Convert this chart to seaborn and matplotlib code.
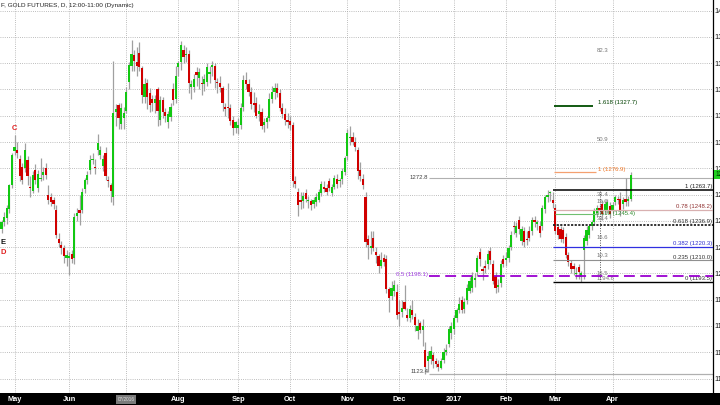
import numpy as np
import pandas as pd
import matplotlib
matplotlib.use("Agg")
import matplotlib.pyplot as plt
import matplotlib.transforms as mtransforms
from matplotlib.patches import Rectangle
import seaborn as sns

# ---------------- data (daily OHLC, late Apr 2016 -> 11 Apr 2017) ----------------
opens = [
    1234, 1239, 1242, 1249, 1267, 1293, 1294, 1287, 1281, 1280,
    1286, 1266, 1263, 1279, 1265, 1272, 1275, 1280, 1260, 1258,
    1256, 1248, 1226, 1222, 1219, 1212, 1212, 1215, 1212, 1244,
    1248, 1248, 1264, 1271, 1279, 1286, 1281, 1294, 1290, 1282,
    1292, 1271, 1267, 1258, 1323, 1328, 1314, 1318, 1324, 1346,
    1358, 1366, 1361, 1368, 1356, 1334, 1345, 1337, 1333, 1330,
    1340, 1317, 1332, 1323, 1315, 1319, 1340, 1333, 1357, 1361,
    1370, 1366, 1367, 1342, 1342, 1353, 1349, 1345, 1344, 1346,
    1352, 1357, 1358, 1346, 1345, 1341, 1327, 1327, 1326, 1317,
    1311, 1311, 1313, 1327, 1347, 1344, 1338, 1330, 1330, 1321,
    1323, 1313, 1315, 1318, 1333, 1338, 1341, 1337, 1326, 1321,
    1317, 1316, 1313, 1270, 1262, 1256, 1255, 1261, 1255, 1255,
    1253, 1254, 1256, 1261, 1266, 1265, 1270, 1261, 1266, 1272,
    1270, 1272, 1277, 1289, 1303, 1304, 1300, 1294, 1279, 1272,
    1258, 1226, 1219, 1227, 1216, 1213, 1206, 1212, 1211, 1188,
    1183, 1187, 1186, 1171, 1171, 1178, 1168, 1166, 1172, 1167,
    1156, 1162, 1157, 1142, 1133, 1135, 1138, 1133, 1131, 1128,
    1134, 1140, 1146, 1155, 1158, 1166, 1172, 1180, 1173, 1180,
    1187, 1189, 1195, 1201, 1216, 1203, 1206, 1207, 1217, 1207,
    1198, 1190, 1193, 1211, 1210, 1212, 1220, 1236, 1231, 1241,
    1225, 1232, 1226.5, 1232, 1232, 1240.5, 1238, 1236, 1236, 1249,
    1258, 1261, 1256, 1250, 1235, 1234, 1233, 1228, 1214, 1208,
    1206, 1199.5, 1205, 1197.5, 1218, 1225, 1229, 1236, 1239, 1246,
    1250, 1253, 1248, 1248, 1251, 1248, 1254.5, 1257, 1257, 1253,
    1256.5, 1255, 1257,
]
highs = [
    1241, 1247, 1252, 1268, 1292, 1305, 1300, 1290, 1284, 1299,
    1289, 1274, 1278, 1283, 1279, 1288, 1281, 1284, 1267, 1261,
    1258, 1252, 1231, 1225, 1222, 1218, 1216, 1218, 1246, 1250,
    1260, 1265, 1273, 1278, 1290, 1292, 1287, 1306, 1297, 1290,
    1296, 1274, 1269, 1362, 1329, 1330, 1330, 1327, 1342, 1361,
    1378, 1370, 1372, 1376, 1358, 1349, 1348, 1341, 1336, 1336,
    1342, 1335, 1334, 1326, 1324, 1330, 1345, 1358, 1362, 1377,
    1374, 1372, 1370, 1347, 1352, 1357, 1356, 1350, 1352, 1360,
    1358, 1362, 1360, 1349, 1350, 1343, 1330, 1345, 1329, 1320,
    1316, 1318, 1330, 1351, 1353, 1348, 1342, 1338, 1334, 1329,
    1326, 1318, 1320, 1337, 1343, 1345, 1345, 1340, 1330, 1326,
    1322, 1320, 1315, 1274, 1265, 1262, 1262, 1264, 1259, 1257,
    1258, 1261, 1264, 1270, 1270, 1268, 1273, 1268, 1275, 1276,
    1273, 1280, 1289, 1310, 1312, 1308, 1304, 1296, 1285, 1276,
    1262, 1229, 1232, 1232, 1220, 1215, 1216, 1215, 1214, 1190,
    1194, 1195, 1192, 1180, 1180, 1191, 1174, 1176, 1180, 1170,
    1165, 1164, 1165, 1148, 1141, 1145, 1140, 1136, 1134, 1136,
    1143, 1146, 1160, 1163, 1168, 1174, 1182, 1183, 1181, 1192,
    1197, 1201, 1200, 1214, 1219, 1206, 1210, 1218, 1220, 1210,
    1201, 1196, 1210, 1214, 1216, 1222, 1232, 1240, 1239, 1244,
    1236, 1235, 1232, 1236, 1243, 1244, 1241, 1240, 1252, 1260,
    1263.7, 1263, 1262, 1253, 1238, 1236, 1235, 1231, 1216, 1210,
    1208, 1205, 1207, 1202, 1229, 1236, 1238, 1241, 1250, 1252,
    1253, 1256, 1255, 1257, 1254, 1254, 1260, 1259, 1262, 1258,
    1273, 1259, 1277,
]
lows = [
    1231, 1236, 1238, 1246, 1265, 1290, 1288, 1270, 1268, 1277,
    1267, 1258, 1261, 1268, 1262, 1270, 1271, 1272, 1253, 1251,
    1249, 1227, 1220, 1215, 1208, 1206, 1199, 1208, 1207, 1240,
    1237, 1246, 1261, 1268, 1276, 1283, 1276, 1290, 1287, 1278,
    1271, 1266, 1254, 1252, 1312, 1310, 1310, 1310, 1322, 1340,
    1354, 1354, 1350, 1354, 1330, 1330, 1325, 1323, 1324, 1322,
    1312, 1313, 1318, 1315, 1311, 1316, 1328, 1330, 1350, 1355,
    1360, 1361, 1337, 1333, 1338, 1343, 1340, 1336, 1339, 1343,
    1345, 1350, 1341, 1337, 1338, 1324, 1320, 1318, 1313, 1305,
    1307, 1306, 1310, 1324, 1340, 1335, 1325, 1323, 1318, 1316,
    1310, 1308, 1311, 1316, 1330, 1333, 1334, 1324, 1318, 1313,
    1311, 1309, 1266, 1265, 1244, 1249, 1250, 1254, 1250, 1248,
    1250, 1251, 1254, 1259, 1262, 1260, 1263, 1259, 1264, 1265,
    1266, 1268, 1275, 1286, 1298, 1298, 1293, 1272, 1270, 1264,
    1220, 1211, 1215, 1217, 1208, 1200, 1204, 1206, 1185, 1171,
    1180, 1183, 1165, 1160, 1167, 1172, 1164, 1163, 1165, 1156,
    1150, 1155, 1145, 1123.4, 1125, 1131, 1128, 1129, 1126, 1127,
    1132, 1138, 1144, 1150, 1154, 1163, 1170, 1170, 1170, 1177,
    1185, 1186, 1190, 1198, 1206, 1195, 1200, 1203, 1207, 1192,
    1185, 1186, 1190, 1205, 1206, 1209, 1218, 1230, 1228, 1230,
    1222, 1220, 1222, 1225, 1229, 1235, 1233, 1228, 1233, 1246,
    1254, 1255, 1250, 1230, 1226, 1224, 1223, 1212, 1206, 1200,
    1199, 1196, 1196, 1193.5, 1196, 1222, 1227, 1233, 1237, 1243,
    1245, 1241, 1245, 1246, 1242, 1246, 1252, 1253, 1244, 1249,
    1251, 1251, 1255,
]
closes = [
    1239, 1243, 1250, 1267, 1290, 1296, 1292, 1274, 1271, 1294,
    1274, 1265, 1275, 1271, 1276, 1273, 1277, 1275, 1256, 1254,
    1253, 1229, 1223, 1219, 1213, 1214, 1213, 1211, 1243, 1246,
    1246, 1262, 1271, 1275, 1286, 1287, 1280, 1299, 1294, 1287,
    1274, 1270, 1263, 1322, 1325, 1318, 1326, 1322, 1338, 1359,
    1367, 1362, 1358, 1357, 1336, 1344, 1334, 1328, 1330, 1333,
    1324, 1332, 1323, 1320, 1321, 1327, 1332, 1350, 1360, 1374,
    1365, 1367, 1345, 1344, 1348, 1351, 1353, 1344, 1348, 1357,
    1353, 1359, 1347, 1345, 1342, 1330, 1325, 1326, 1316, 1311,
    1315, 1313, 1326, 1347, 1344, 1338, 1329, 1328, 1320, 1324,
    1312, 1315, 1318, 1333, 1338, 1341, 1337, 1326, 1321, 1317,
    1315, 1313, 1270, 1268, 1252, 1254, 1259, 1257, 1255.5, 1252,
    1256, 1258, 1262, 1268, 1264, 1262, 1265, 1266, 1273, 1268,
    1271, 1278, 1288, 1307, 1304, 1300, 1296, 1278, 1274, 1267,
    1224, 1222, 1221, 1219, 1214, 1206, 1210, 1209, 1188, 1181,
    1189, 1191, 1168, 1169, 1174, 1173, 1166, 1173, 1168, 1161,
    1160, 1157, 1160, 1129, 1137, 1141, 1133, 1131, 1129, 1133,
    1140, 1142, 1158, 1160, 1166, 1172, 1177, 1172, 1178, 1189,
    1194, 1198, 1196.5, 1212, 1211, 1202, 1204, 1215, 1210, 1194.5,
    1189, 1191, 1207, 1207, 1212, 1219, 1229, 1235, 1236, 1234,
    1234, 1224, 1225.5, 1227, 1241, 1239.5, 1239, 1231, 1250, 1258,
    1260, 1261.5, 1253.5, 1232, 1229, 1226, 1226, 1214, 1209, 1203,
    1203, 1200.5, 1201, 1200, 1227, 1233, 1236, 1239, 1248, 1250,
    1248.5, 1245, 1253, 1254.5, 1245, 1252, 1258, 1256, 1248, 1256,
    1254, 1256.5, 1275,
]
# bars per calendar month (first entry = last days of Apr 2016)
month_bar_counts = [5, 21, 22, 20, 23, 20, 22, 20, 21, 20, 19, 22, 8]
month_labels = ["May", "Jun", "Jul", "Aug", "Sep", "Oct", "Nov", "Dec",
                "2017", "Feb", "Mar", "Apr"]
price_ticks = list(range(1120, 1401, 20))
fib_labels = ["1 (1263.7)", "0.78 (1248.2)", "0.618 (1236.9)",
              "0.382 (1220.3)", "0.235 (1210.0)", "0 (1193.5)"]
fib_values = [1263.7, 1248.2, 1236.9, 1220.3, 1210.0, 1193.5]
measure_labels = ["82.3", "50.9", "31.4", "15.6", "31.4", "16.6", "10.3", "16.5", "1194.6"]
measure_values = [1370.0, 1301.6, 1260.0, 1255.0, 1241.5, 1227.7, 1214.0, 1200.3, 1196.0]

for arr in (opens, highs, lows, closes):
    assert len(arr) == len(opens)

df = pd.DataFrame({"open": opens, "high": highs, "low": lows, "close": closes})
df["bar"] = np.arange(len(df))
df["up"] = df["close"] >= df["open"]
df["body_lo"] = df[["open", "close"]].min(axis=1)
df["body_h"] = (df["close"] - df["open"]).abs().clip(lower=0.8)

# ---------------- style ----------------
sns.set_theme(style="white")
plt.rcParams["font.family"] = ["Liberation Sans", "DejaVu Sans"]

W, H = 720, 405
fig = plt.figure(figsize=(7.2, 4.05), dpi=100)
fig.patch.set_facecolor("white")
band = 12
ax = fig.add_axes([0, band / H, 713 / W, (H - band) / H])
ax.set_facecolor("white")

px_per_bar = 2.6
x_left = -0.58
x_end = x_left + 713 / px_per_bar
ax.set_xlim(x_left, x_end)
ax.set_ylim(1109.0, 1408.1)

grid_kw = dict(color="#a8a8a8", lw=0.6, linestyle=(0, (1, 1.6)), zorder=0)
ax.hlines(price_ticks, x_left, x_end, **grid_kw)
month_starts = np.cumsum([0] + month_bar_counts[:-1])[1:]
ax.vlines(month_starts, 1109, 1408.1, **grid_kw)

# candles
green, red = "#12c812", "#d00000"
ax.vlines(df["bar"], df["low"], df["high"], color="#a0a0a0", lw=0.9, zorder=2)
ax.bar(df["bar"], df["body_h"], bottom=df["body_lo"], width=0.8,
       color=np.where(df["up"], green, red), edgecolor="none", zorder=3)

# ---------------- annotations ----------------
fs = 4.3
ax.hlines(1272.8, 164.5, x_end, color="#b0b0b0", lw=0.8, zorder=1)
ax.text(164.2, 1273.3, "1272.8", ha="right", va="center", fontsize=fs, color="#444444")
ax.hlines(1123.4, 164.5, x_end, color="#b0b0b0", lw=0.9, zorder=1)
ax.text(164.2, 1125.0, "1123.4", ha="right", va="center", fontsize=fs, color="#444444")
ax.hlines(1198.1, 164.5, x_end, color="#9a00d0", lw=1.3, linestyle=(0, (6, 3)), zorder=4)
ax.text(164.0, 1199.0, "0.5 (1198.1)", ha="right", va="center", fontsize=fs, color="#a040e0")

fib_styles = [
    dict(color="#000000", lw=1.1, linestyle="-"),
    dict(color="#d8b0b0", lw=0.9, linestyle="-"),
    dict(color="#222222", lw=1.3, linestyle=(0, (1.2, 0.8))),
    dict(color="#3030e0", lw=0.9, linestyle="-"),
    dict(color="#909090", lw=0.8, linestyle="-"),
    dict(color="#000000", lw=1.0, linestyle="-"),
]
fib_text_colors = ["#222222", "#903030", "#333333", "#3030d0", "#333333", "#333333"]
for lab, val, st, tc in zip(fib_labels, fib_values, fib_styles, fib_text_colors):
    ax.hlines(val, 212.3, x_end, zorder=4, **st)
    ax.text(x_end - 0.4, val + 0.6, lab, ha="right", va="bottom", fontsize=fs, color=tc)

ax.hlines(1276.9, 212.5, 228.5, color="#f4a070", lw=0.9, zorder=4)
ax.text(229.3, 1277.3, "1 (1276.9)", ha="left", va="bottom", fontsize=fs, color="#f07828")
ax.hlines(1327.7, 212.5, 227.5, color="#004d00", lw=1.3, zorder=4)
ax.text(229.3, 1328.2, "1.618 (1327.7)", ha="left", va="bottom", fontsize=fs, color="#004000")
ax.hlines(1245.4, 213.0, 228.5, color="#70c070", lw=0.8, zorder=4)
ax.text(228.8, 1245.4, "0.618 (1245.4)", ha="left", va="center", fontsize=fs, color="#2a8a2a")

ax.vlines(230.2, 1193.5, 1263.7, color="#555555", lw=0.7, linestyle=(0, (1, 1.5)), zorder=4)
for lab, val in zip(measure_labels, measure_values):
    ax.text(229.0, val, lab, ha="left", va="center", fontsize=fs, color="#777777")

ax.text(4.8, 1310.5, "C", ha="center", va="center", fontsize=5.5, color="#e02020", fontweight="bold")
ax.text(-0.5, 1223.2, "E", ha="left", va="center", fontsize=5.5, color="#111111", fontweight="bold")
ax.text(-0.5, 1216.3, "D", ha="left", va="center", fontsize=5.5, color="#e02020", fontweight="bold")

ax.text(0.002, 0.992, "F, GOLD FUTURES, D, 12:00-11:00 (Dynamic)", transform=ax.transAxes,
        ha="left", va="top", fontsize=4.6, color="#222222")

# ---------------- axes / spines ----------------
for s in ("top", "left", "bottom"):
    ax.spines[s].set_visible(False)
ax.spines["right"].set_color("#000000")
ax.spines["right"].set_linewidth(0.9)
ax.set_xticks([])
ax.yaxis.tick_right()
ax.set_yticks(price_ticks)
ax.set_yticklabels([str(p) for p in price_ticks])
ax.tick_params(axis="y", length=0, pad=1.2, labelsize=5.5, labelcolor="#111111")

trans = mtransforms.blended_transform_factory(ax.transAxes, ax.transData)
ax.text(1.003, 1275.0, "1275.0", transform=trans, ha="left", va="center", fontsize=4.8,
        color="#003300", clip_on=False,
        bbox=dict(boxstyle="square,pad=0.15", fc="#22d022", ec="none"))

# bottom black band with month labels
fig.patches.append(Rectangle((0, 0), 1, band / H, transform=fig.transFigure,
                             facecolor="black", edgecolor="none", zorder=-5))
xtrans = mtransforms.blended_transform_factory(ax.transData, fig.transFigure)
for pos, lab in zip(month_starts, month_labels):
    if lab == "Jul":
        ax.text(pos, 5.5 / H, "07/2016", transform=xtrans, ha="center", va="center",
                fontsize=3.4, color="#dddddd", clip_on=False, zorder=10,
                bbox=dict(boxstyle="square,pad=0.35", fc="#7a7a7a", ec="none"))
    else:
        ax.text(pos, 5.5 / H, lab, transform=xtrans, ha="center", va="center",
                fontsize=5.3, color="white", fontweight="bold", clip_on=False, zorder=10,
                family=["Liberation Sans Narrow", "Liberation Sans", "DejaVu Sans"])

fig.savefig("out.png", dpi=100, facecolor="white")
